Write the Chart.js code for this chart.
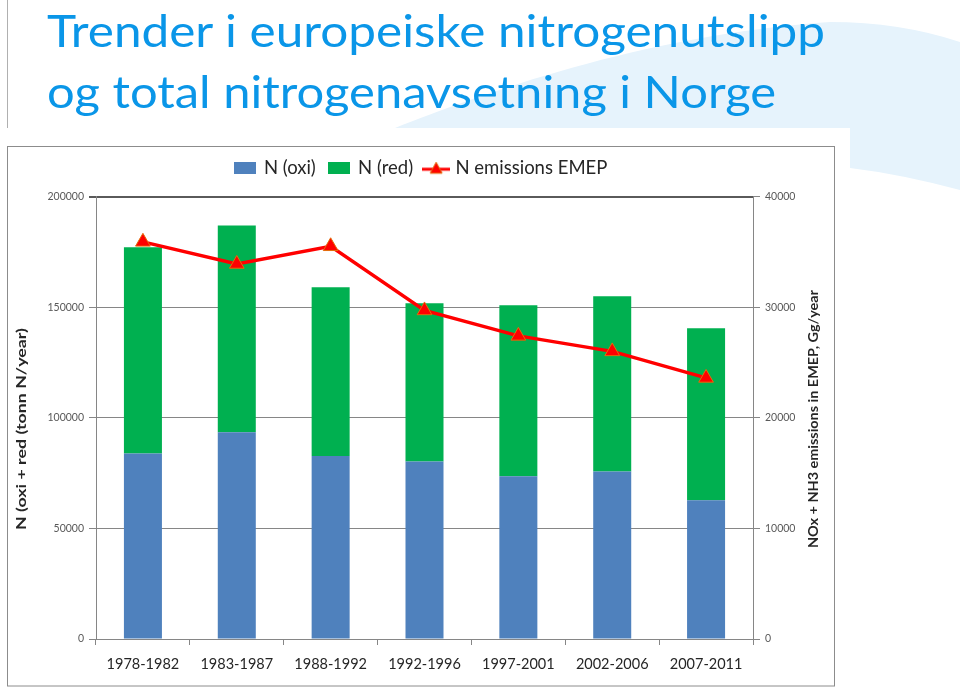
<!DOCTYPE html>
<html>
<head>
<meta charset="utf-8">
<script src="https://cdn.jsdelivr.net/npm/chart.js@4.4.1/dist/chart.umd.min.js"></script>
<style>
  html, body { margin:0; padding:0; background:#fff; }
  #wrap { position:relative; width:960px; height:687px; overflow:hidden; }
  #c { position:absolute; left:0; top:0; }
  .ttl { position:absolute; left:47px; font-family:Lato, "Open Sans", sans-serif; font-size:45px; line-height:1;
         color:#0A96E8; white-space:nowrap; transform-origin:0 0; }
  .bl { display:inline-block; width:0; height:0; vertical-align:baseline; }
</style>
</head>
<body>
<div id="wrap">
  <canvas id="c" width="960" height="687"></canvas>
  <div id="t1" class="ttl"><span class="tx">Trender i europeiske nitrogenutslipp</span><span class="bl"></span></div>
  <div id="t2" class="ttl"><span class="tx">og total nitrogenavsetning i Norge</span><span class="bl"></span></div>
</div>
<script>
// ---- data ----
const categories = ['1978-1982','1983-1987','1988-1992','1992-1996','1997-2001','2002-2006','2007-2011'];
const nOxi = [83800, 93400, 82700, 80200, 73600, 75700, 62700];
const nRed = [93300, 93500, 76300, 71600, 77300, 79200, 77700];
const emep = [35900, 33900, 35500, 29700, 27400, 26000, 23600];
const leftTicks = [0, 50000, 100000, 150000, 200000];
const rightTicks = [0, 10000, 20000, 30000, 40000];
const leftTitle = 'N (oxi + red (tonn N/year)';
const rightTitle = 'NOx + NH3 emissions in EMEP, Gg/year';

const FONT = 'Lato, "Open Sans", sans-serif';

// ---- title fitting ----
function fitTitle(id, targetW, baseline) {
  const el = document.getElementById(id);
  const tx = el.querySelector('.tx');
  const bl = el.querySelector('.bl');
  el.style.top = '0px';
  const w = tx.getBoundingClientRect().width;
  const b = bl.offsetTop;
  el.style.top = (baseline - b) + 'px';
  el.style.transform = 'scaleX(' + (targetW / w) + ')';
}
fitTitle('t1', 778, 47);
fitTitle('t2', 729, 108);

// ---- legend symbols ----
function rectImg(color) {
  const c = document.createElement('canvas'); c.width = 22; c.height = 12;
  const g = c.getContext('2d'); g.fillStyle = color; g.fillRect(0, 0, 22, 12); return c;
}
function lineImg() {
  const c = document.createElement('canvas'); c.width = 28; c.height = 16;
  const g = c.getContext('2d');
  g.strokeStyle = '#FF0000'; g.lineWidth = 3; g.beginPath(); g.moveTo(0, 9); g.lineTo(28, 9); g.stroke();
  g.fillStyle = '#FF0000'; g.strokeStyle = '#E46C0A'; g.lineWidth = 1;
  g.beginPath(); g.moveTo(14, 2); g.lineTo(20, 13); g.lineTo(8, 13); g.closePath(); g.fill(); g.stroke();
  return c;
}
const legendImgs = [rectImg('#4F81BD'), rectImg('#00B050'), lineImg()];

function drawRotTitle(g, text, cx, cy, len) {
  g.save();
  g.translate(cx, cy);
  g.rotate(-Math.PI / 2);
  g.font = 'bold 14px ' + FONT;
  const w = g.measureText(text).width;
  g.scale(len / w, 1);
  g.fillStyle = '#262626';
  g.textAlign = 'center'; g.textBaseline = 'middle';
  g.fillText(text, 0, 0);
  g.restore();
}

// ---- background / frame plugin ----
const framePlugin = {
  id: 'frame',
  beforeDraw(chart) {
    const g = chart.ctx;
    g.save();
    g.fillStyle = '#ffffff'; g.fillRect(0, 0, 960, 687);
    g.fillStyle = '#E6F3FC';
    g.beginPath();
    g.moveTo(395, 128);
    g.bezierCurveTo(480, 95, 640, 35, 830, 22);
    g.quadraticCurveTo(900, 22, 960, 42);
    g.lineTo(960, 190);
    g.quadraticCurveTo(900, 174, 850, 168);
    g.lineTo(850, 128);
    g.closePath(); g.fill();
    g.fillStyle = '#ffffff'; g.fillRect(0, 128, 850, 559);
    g.strokeStyle = '#8C8C8C'; g.lineWidth = 1;
    g.strokeRect(7.5, 146.5, 827, 539.5);
    g.strokeStyle = '#B0B0B0';
    g.beginPath(); g.moveTo(7.5, 0); g.lineTo(7.5, 128); g.stroke();
    g.restore();
  },
  afterDraw(chart) {
    const g = chart.ctx;
    drawRotTitle(g, leftTitle, 21, 429, 202);
    drawRotTitle(g, rightTitle, 813, 419, 258);
  }
};

const gridCol = '#868686';

new Chart(document.getElementById('c'), {
  data: {
    labels: categories,
    datasets: [
      { type: 'bar', label: 'N (oxi)', data: nOxi, backgroundColor: '#4F81BD', stack: 's', yAxisID: 'y', order: 1,
        barPercentage: 0.405, categoryPercentage: 1.0 },
      { type: 'bar', label: 'N (red)', data: nRed, backgroundColor: '#00B050', stack: 's', yAxisID: 'y', order: 1,
        barPercentage: 0.405, categoryPercentage: 1.0 },
      { type: 'line', label: 'N emissions EMEP', data: emep, yAxisID: 'y1', order: 0,
        borderColor: '#FF0000', borderWidth: 3.5, tension: 0, fill: false,
        pointStyle: 'triangle', pointRadius: 8.5, pointBackgroundColor: '#FF0000',
        pointBorderColor: '#E46C0A', pointBorderWidth: 1 }
    ]
  },
  options: {
    responsive: false, animation: false, devicePixelRatio: 1,
    layout: { padding: { left: 7, right: 125, top: 146, bottom: 0 } },
    plugins: {
      tooltip: { enabled: false },
      title: { display: false },
      subtitle: { display: true, text: ' ', weight: 500, font: { size: 5, lineHeight: 1 }, padding: { top: 2, bottom: 2 } },
      legend: {
        position: 'top',
        labels: {
          usePointStyle: true, pointStyleWidth: 20, boxHeight: 12, padding: 13,
          font: { family: FONT, size: 18.5 }, color: '#262626',
          generateLabels(chart) {
            return chart.data.datasets.map((ds, i) => ({
              text: ds.label, datasetIndex: i, pointStyle: legendImgs[i],
              fillStyle: '#fff', strokeStyle: '#fff', lineWidth: 0, hidden: false, fontColor: '#262626'
            }));
          }
        }
      }
    },
    scales: {
      x: {
        stacked: true, offset: true,
        grid: { offset: true, drawOnChartArea: false, drawTicks: true, tickLength: 6, color: gridCol },
        border: { color: gridCol },
        ticks: { font: { family: FONT, size: 14.5 }, color: '#262626', padding: 11, maxRotation: 0, autoSkip: false },
        afterFit(s) { s.height = 48; }
      },
      y: {
        stacked: true, position: 'left', min: 0, max: 200000,
        afterBuildTicks(s) { s.ticks = leftTicks.map(v => ({ value: v })); },
        ticks: { font: { family: FONT, size: 10.5 }, color: '#595959', padding: 5, callback: v => String(v) },
        grid: { tickLength: 7,
                color: c => (c.tick && c.tick.value === 200000) ? '#5A5A5A' : gridCol,
                lineWidth: c => (c.tick && c.tick.value === 200000) ? 2 : 1 },
        border: { color: gridCol },
        title: { display: false },
        afterFit(s) { s.width = 89; }
      },
      y1: {
        position: 'right', min: 0, max: 40000,
        afterBuildTicks(s) { s.ticks = rightTicks.map(v => ({ value: v })); },
        ticks: { font: { family: FONT, size: 10.5 }, color: '#595959', padding: 5, callback: v => String(v) },
        grid: { drawOnChartArea: false, drawTicks: true, tickLength: 7, color: gridCol },
        border: { color: gridCol },
        afterFit(s) { s.width = 82; }
      }
    }
  },
  plugins: [framePlugin]
});
</script>
</body>
</html>
